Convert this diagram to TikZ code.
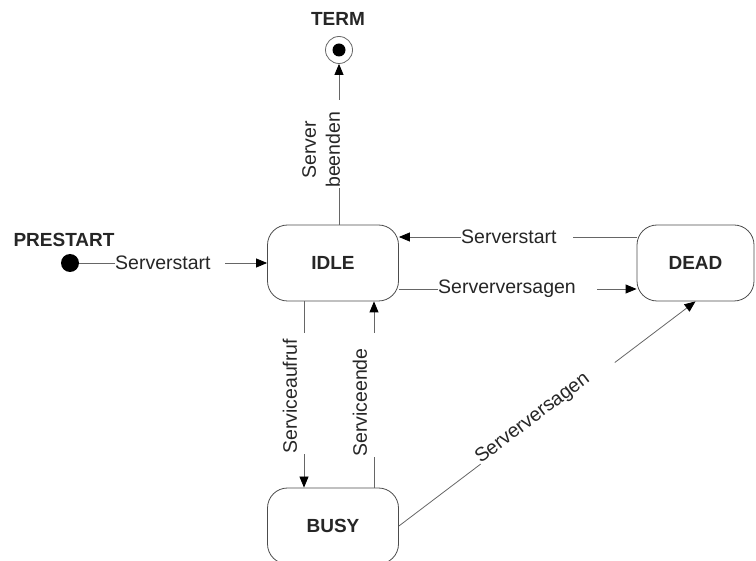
\documentclass[tikz,border=0pt]{standalone}
\usepackage{fontspec}
\setmainfont{Liberation Sans}
\usetikzlibrary{arrows.meta}

\begin{document}
\begin{tikzpicture}[x=1pt,y=-1pt,
  every node/.style={font=\fontsize{19.5}{24}\selectfont, text=black!85},
  state/.style={draw=black!70, line width=0.8pt, rounded corners=20pt,
    minimum width=131pt, minimum height=76pt, inner sep=0pt, font=\fontsize{19}{23}\selectfont\bfseries},
  title/.style={font=\fontsize{19}{23}\selectfont\bfseries},
  tr/.style={draw=black!60, line width=0.8pt, -{Triangle[length=11pt,width=9pt,black]}},
  lbl/.style={fill=white, inner xsep=0pt, inner ysep=3pt, align=left}
]
\useasboundingbox (0,0) rectangle (756,561);

% states
\node[state] (idle) at (333,263) {IDLE};
\node[state, minimum width=117pt] (dead) at (695.5,263) {DEAD};
\node[state] (busy) at (333,526) {BUSY};

% pseudo states
\node[circle, fill=black, minimum size=18pt, inner sep=0pt] (pre) at (70,263) {};
\node[title, anchor=west] (pretitle) at (10,240) {PRESTART};
\node[circle, draw=black!60, line width=0.8pt, minimum size=27pt, inner sep=0pt] (term) at (339,50) {};
\fill[black] (term.center) circle (6.5pt);
\node[title] (termtitle) at (338,19) {TERM};

% transitions
\draw[tr] (pre) -- (idle.west);
\draw[tr] ([xshift=6pt]idle.north) -- (term.south);
\draw[tr] ([yshift=26pt]dead.west) -- ([yshift=26pt]idle.east);
\draw[tr] ([yshift=-26pt]idle.east) -- ([yshift=-26pt]dead.west);
\draw[tr] ([xshift=-29pt]idle.south) -- ([xshift=-29pt]busy.north);
\draw[tr] ([xshift=41pt]busy.north) -- ([xshift=41pt]idle.south);
\draw[tr] (busy.east) -- (dead.south)
  node[lbl, sloped, pos=0.275, anchor=base west, text width=168pt] (l7) {Serverversagen};

% transition labels
\node[lbl, anchor=west, text width=110pt] (l1) at (115,263) {Serverstart};
\node[lbl, anchor=west, text width=112pt] (l2) at (461,237) {Serverstart};
\node[lbl, anchor=west, text width=159pt] (l3) at (438,289) {Serverversagen};
\node[lbl, rotate=90, anchor=west, text width=88pt, inner ysep=2pt] (l4) at (323,188)
  {\begin{tabular}{@{}c@{}}Server\\beenden\end{tabular}};
\node[lbl, rotate=90, anchor=west, text width=121pt, inner ysep=9pt] (l5) at (290,454) {Serviceaufruf};
\node[lbl, rotate=90, anchor=west, text width=124pt, inner ysep=9pt] (l6) at (360,457) {Serviceende};
\end{tikzpicture}
\end{document}
